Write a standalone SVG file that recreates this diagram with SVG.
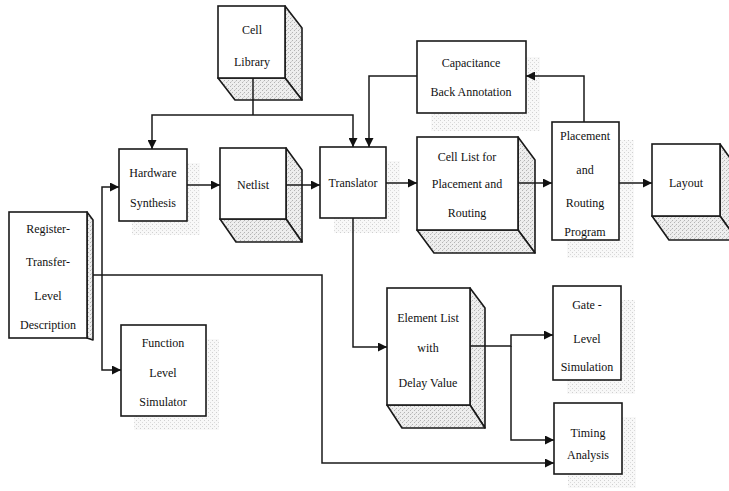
<svg xmlns="http://www.w3.org/2000/svg" width="729" height="491" viewBox="0 0 729 491">
  <defs>
    <!-- stippled grey used on the side faces of the solid blocks -->
    <pattern id="stipple" width="4" height="4" patternUnits="userSpaceOnUse">
      <rect width="4" height="4" fill="#eeeeee"/>
      <rect x="0" y="0" width="1" height="1" fill="#b4b4b4"/>
      <rect x="2" y="2" width="1" height="1" fill="#b4b4b4"/>
      <rect x="3" y="1" width="1" height="1" fill="#d2d2d2"/>
    </pattern>
    <!-- faint dotted drop shadow behind the flat boxes -->
    <pattern id="shade" width="4" height="4" patternUnits="userSpaceOnUse">
      <rect width="4" height="4" fill="#f8f8f8"/>
      <rect x="0" y="0" width="1" height="1" fill="#d0d0d0"/>
      <rect x="2" y="2" width="1" height="1" fill="#dadada"/>
    </pattern>
    <marker id="arrow" viewBox="0 0 10 10" refX="10" refY="5" markerWidth="9" markerHeight="9" markerUnits="userSpaceOnUse" orient="auto">
      <path d="M0,0 L10,5 L0,10 Z" fill="#111"/>
    </marker>
  </defs>
  <style>
    .face { fill: #ffffff; stroke: #1a1a1a; stroke-width: 1.6; }
    .side { fill: url(#stipple); stroke: #1a1a1a; stroke-width: 1.6; stroke-linejoin: round; }
    .shadow { fill: url(#shade); stroke: none; }
    .wire { fill: none; stroke: #1a1a1a; stroke-width: 1.5; }
    .arr { marker-end: url(#arrow); }
    text { font-family: "Liberation Serif", "DejaVu Serif", serif; font-size: 12px; fill: #111; text-anchor: middle; }
  </style>

  <rect width="729" height="491" fill="#ffffff"/>

  <!-- Cell Library (solid block) -->
  <g id="cell-library">
    <polygon class="side" points="285,6 302,28 302,100 285,78"/>
    <polygon class="side" points="218,78 285,78 302,100 235,100"/>
    <rect class="face" x="218" y="6" width="67" height="72"/>
    <text x="252" y="34">Cell</text>
    <text x="252" y="66">Library</text>
  </g>

  <!-- Capacitance Back Annotation -->
  <g id="capacitance">
    <rect class="shadow" x="431" y="57" width="109" height="74"/>
    <rect class="face" x="417" y="41" width="109" height="72"/>
    <text x="471" y="67">Capacitance</text>
    <text x="471" y="96">Back Annotation</text>
  </g>

  <!-- Hardware Synthesis -->
  <g id="hardware-synthesis">
    <rect class="shadow" x="132" y="163" width="68" height="72"/>
    <rect class="face" x="119" y="149" width="68" height="72"/>
    <text x="153" y="177">Hardware</text>
    <text x="153" y="207">Synthesis</text>
  </g>

  <!-- Netlist (solid block) -->
  <g id="netlist">
    <polygon class="side" points="286,148 302,170 302,242 286,219"/>
    <polygon class="side" points="220,219 286,219 302,242 236,242"/>
    <rect class="face" x="220" y="148" width="66" height="71"/>
    <text x="253" y="189">Netlist</text>
  </g>

  <!-- Translator -->
  <g id="translator">
    <rect class="shadow" x="334" y="161" width="66" height="72"/>
    <rect class="face" x="320" y="147" width="66" height="71"/>
    <text x="353" y="187">Translator</text>
  </g>

  <!-- Cell List for Placement and Routing (solid block) -->
  <g id="cell-list">
    <polygon class="side" points="518,137 535,160 535,253 518,230"/>
    <polygon class="side" points="417,230 518,230 535,253 434,253"/>
    <rect class="face" x="417" y="137" width="101" height="93"/>
    <text x="467" y="161">Cell List for</text>
    <text x="467" y="188">Placement and</text>
    <text x="467" y="217">Routing</text>
  </g>

  <!-- Placement and Routing Program -->
  <g id="placement-routing">
    <rect class="shadow" x="567" y="140" width="67" height="118"/>
    <rect class="face" x="552" y="122" width="67" height="118"/>
    <text x="585" y="140">Placement</text>
    <text x="585" y="174">and</text>
    <text x="585" y="207">Routing</text>
    <text x="585" y="236">Program</text>
  </g>

  <!-- Layout (solid block) -->
  <g id="layout">
    <polygon class="side" points="720,144 737,168 737,240 720,216"/>
    <polygon class="side" points="652,216 720,216 737,240 669,240"/>
    <rect class="face" x="652" y="144" width="68" height="72"/>
    <text x="686" y="187">Layout</text>
  </g>

  <!-- Register-Transfer-Level Description (thin block) -->
  <g id="rtl-description">
    <polygon class="side" points="87,212 93,220 93,340 87,338"/>
    <rect class="face" x="9" y="212" width="78" height="126"/>
    <text x="48" y="233">Register-</text>
    <text x="48" y="266">Transfer-</text>
    <text x="48" y="300">Level</text>
    <text x="48" y="329">Description</text>
  </g>

  <!-- Function Level Simulator -->
  <g id="function-simulator">
    <rect class="shadow" x="134" y="339" width="85" height="91"/>
    <rect class="face" x="121" y="325" width="85" height="91"/>
    <text x="163" y="347">Function</text>
    <text x="163" y="377">Level</text>
    <text x="163" y="406">Simulator</text>
  </g>

  <!-- Element List with Delay Value (solid block) -->
  <g id="element-list">
    <polygon class="side" points="470,288 485,308 485,428 470,405"/>
    <polygon class="side" points="387,405 470,405 485,428 402,428"/>
    <rect class="face" x="387" y="288" width="83" height="117"/>
    <text x="428" y="322">Element List</text>
    <text x="428" y="352">with</text>
    <text x="428" y="387">Delay Value</text>
  </g>

  <!-- Gate-Level Simulation -->
  <g id="gate-simulation">
    <rect class="shadow" x="567" y="300" width="68" height="94"/>
    <rect class="face" x="553" y="286" width="68" height="94"/>
    <text x="587" y="309">Gate -</text>
    <text x="587" y="343">Level</text>
    <text x="587" y="371">Simulation</text>
  </g>

  <!-- Timing Analysis -->
  <g id="timing-analysis">
    <rect class="shadow" x="568" y="417" width="68" height="71"/>
    <rect class="face" x="554" y="403" width="68" height="71"/>
    <text x="588" y="437">Timing</text>
    <text x="588" y="459">Analysis</text>
  </g>

  <!-- Connectors -->
  <g id="connectors">
    <path class="wire" d="M253,78 V115"/>
    <path class="wire arr" d="M253,115 H152 V149"/>
    <path class="wire arr" d="M253,115 H353 V147"/>
    <path class="wire arr" d="M417,76 H369 V147"/>
    <path class="wire arr" d="M584,122 V76 H526"/>
    <path class="wire arr" d="M187,185 H220"/>
    <path class="wire arr" d="M286,185 H320"/>
    <path class="wire arr" d="M386,183 H417"/>
    <path class="wire arr" d="M518,183 H552"/>
    <path class="wire arr" d="M619,183 H652"/>
    <path class="wire arr" d="M353,218 V347 H387"/>
    <path class="wire arr" d="M470,346 H511 V335 H553"/>
    <path class="wire arr" d="M511,346 V440 H554"/>
    <path class="wire arr" d="M93,275 H322 V463 H554"/>
    <path class="wire arr" d="M102,275 V187 H119"/>
    <path class="wire arr" d="M102,275 V370 H121"/>
  </g>
</svg>
